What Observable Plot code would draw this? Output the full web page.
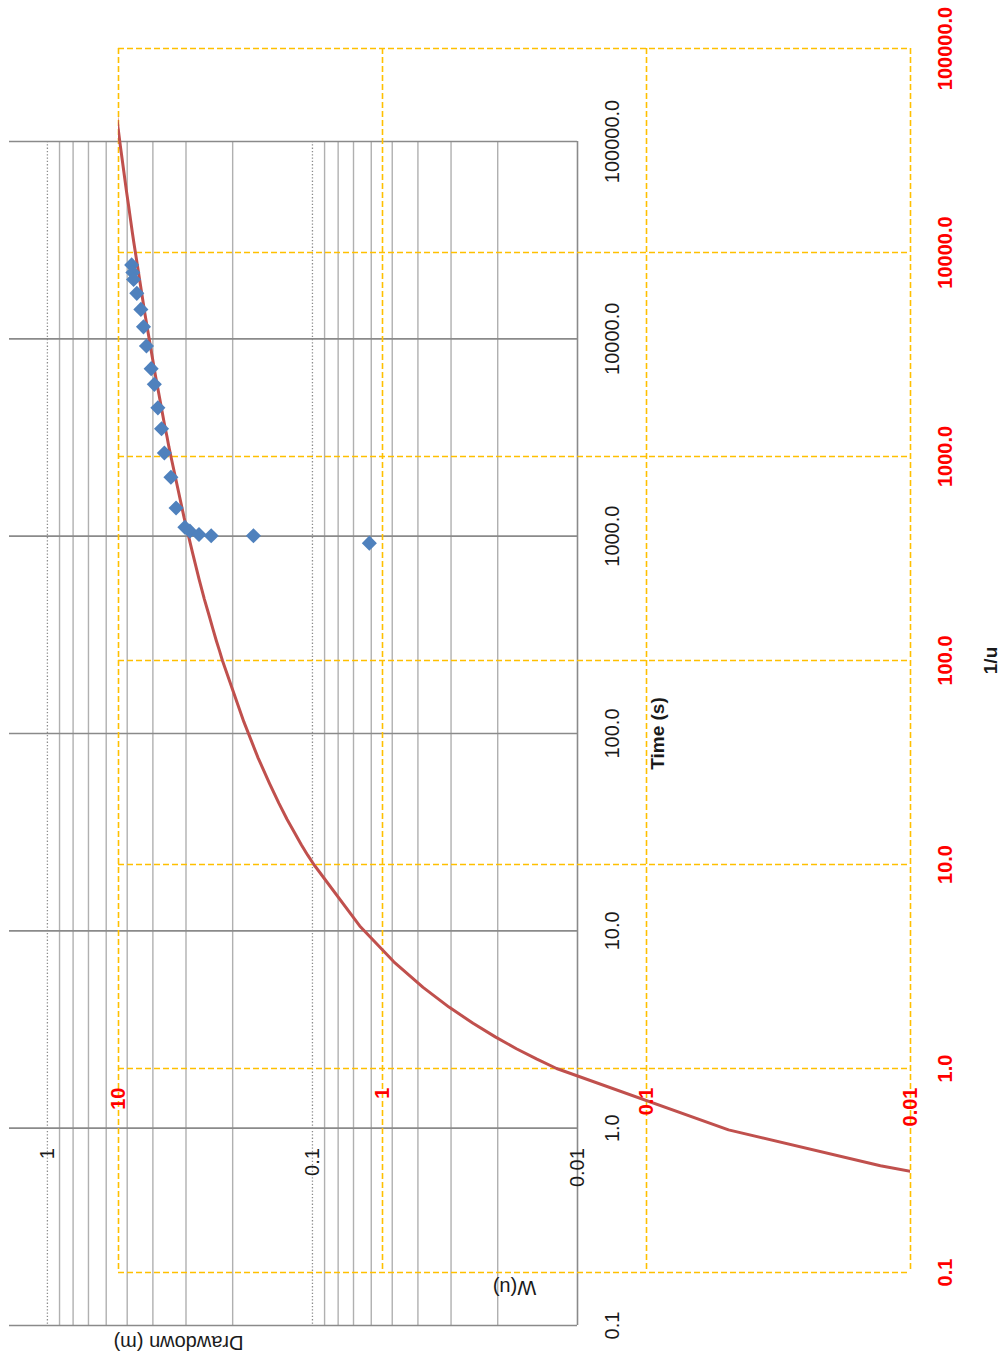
<!DOCTYPE html>
<html><head><meta charset="utf-8">
<script src="https://cdn.jsdelivr.net/npm/d3@7"></script>
<script src="https://cdn.jsdelivr.net/npm/@observablehq/plot@0.6"></script>
<style>
body{margin:0;background:#fff;}
#chart{position:relative;width:1003px;height:1359px;overflow:hidden;background:#fff;}
#chart svg{position:absolute;left:0;top:0;}
</style></head><body><div id="chart"></div>
<script>
// ---- primary (observed) axes ----
const timeTicks = [0.1, 1, 10, 100, 1000, 10000, 100000];
const timeTickLabels = ["0.1", "1.0", "10.0", "100.0", "1000.0", "10000.0", "100000.0"];
const drawdownMajor = [0.01, 0.1, 1];
const drawdownTickLabels = ["0.01", "0.1", "1"];
const drawdownMinor = [0.02, 0.03, 0.04, 0.05, 0.06, 0.07, 0.08, 0.09, 0.2, 0.3, 0.4, 0.5, 0.6, 0.7, 0.8, 0.9];
const drawdownDomain = [0.01, 1.39];
const timeDomain = [0.1, 100000];
const drawdownAxisCrossTime = 1;

// ---- secondary (type curve) axes ----
const invUTicks = [0.1, 1, 10, 100, 1000, 10000, 100000];
const invUTickLabels = ["0.1", "1.0", "10.0", "100.0", "1000.0", "10000.0", "100000.0"];
const wTicks = [0.01, 0.1, 1, 10];
const wTickLabels = ["0.01", "0.1", "1", "10"];
const wDomain = [0.01, 10];
const invUDomain = [0.1, 100000];
const wAxisCrossInvU = 1;

// ---- observed data: Time (s) and Drawdown (m) ----
const obsTime = [23700, 21700, 20000, 17000, 14100, 11500, 9200, 7060, 5880, 4470, 3500, 2640, 1990, 1390, 1110, 1060, 1020, 1005, 1005, 922];
const obsDrawdown = [0.481, 0.476, 0.473, 0.460, 0.444, 0.434, 0.423, 0.406, 0.395, 0.383, 0.371, 0.362, 0.342, 0.327, 0.303, 0.290, 0.268, 0.241, 0.167, 0.061];

// ---- Theis type curve: u and W(u) ----
const theisU = [1e-5, 2e-5, 3e-5, 4e-5, 5e-5, 6e-5, 7e-5, 8e-5, 9e-5,
  1e-4, 2e-4, 3e-4, 4e-4, 5e-4, 6e-4, 7e-4, 8e-4, 9e-4,
  1e-3, 2e-3, 3e-3, 4e-3, 5e-3, 6e-3, 7e-3, 8e-3, 9e-3,
  0.01, 0.02, 0.03, 0.04, 0.05, 0.06, 0.07, 0.08, 0.09,
  0.1, 0.2, 0.3, 0.4, 0.5, 0.6, 0.7, 0.8, 0.9,
  1, 2, 3, 4, 5];
const theisW = [10.94, 10.24, 9.84, 9.55, 9.33, 9.14, 8.99, 8.86, 8.74,
  8.63, 7.94, 7.53, 7.25, 7.02, 6.84, 6.69, 6.55, 6.44,
  6.33, 5.64, 5.23, 4.95, 4.73, 4.54, 4.39, 4.26, 4.14,
  4.04, 3.35, 2.96, 2.68, 2.47, 2.30, 2.15, 2.03, 1.92,
  1.82, 1.22, 0.906, 0.702, 0.560, 0.454, 0.374, 0.311, 0.260,
  0.219, 0.0489, 0.0130, 0.00378, 0.00115];

const FONT = "Liberation Sans, Arial, sans-serif";
const W = 1003, H = 1359;

const obs = obsTime.map((t, i) => ({t, s: obsDrawdown[i]}));
const theis = theisU.map((u, i) => ({invU: 1 / u, w: theisW[i]}));
const timeAxis = timeTicks.map((v, i) => ({v, label: timeTickLabels[i]}));
const ddAxis = drawdownMajor.map((v, i) => ({v, label: drawdownTickLabels[i]}));
const invUAxis = invUTicks.map((v, i) => ({v, label: invUTickLabels[i]}));
const wAxis = wTicks.map((v, i) => ({v, label: wTickLabels[i]}));

const grayMargins = {marginLeft: 9, marginRight: 426, marginTop: 141, marginBottom: 34};
const yellowMargins = {marginLeft: 118, marginRight: 93, marginTop: 48, marginBottom: 87};
const style = {background: "transparent", fontFamily: FONT, overflow: "visible"};

const grayScales = {
  x: {type: "log", domain: drawdownDomain, reverse: true, axis: null},
  y: {type: "log", domain: timeDomain, axis: null}
};
const yellowScales = {
  x: {type: "log", domain: wDomain, reverse: true, axis: null},
  y: {type: "log", domain: invUDomain, axis: null}
};

const mid = {textAnchor: "middle", lineAnchor: "middle"};

// Layer 1: primary grid and labels
const gray = Plot.plot({
  width: W, height: H, ...grayMargins, style, ...grayScales,
  marks: [
    Plot.ruleX(drawdownMinor, {stroke: "#b0b0b0", strokeWidth: 1.4}),
    Plot.ruleX(drawdownMajor.filter(d => d > drawdownDomain[0]), {stroke: "#8c8c8c", strokeWidth: 1.3, strokeDasharray: "1.3,2"}),
    Plot.ruleY(timeTicks, {stroke: "#8a8a8a", strokeWidth: 1.6}),
    Plot.ruleX([drawdownDomain[0]], {stroke: "#8a8a8a", strokeWidth: 1.6}),
    Plot.text(timeAxis, {y: "v", text: "label", frameAnchor: "right", dx: 35, rotate: -90, ...mid, fontSize: 20, fill: "#1a1a1a"}),
    Plot.text(ddAxis, {x: "v", y: () => drawdownAxisCrossTime, text: "label", dy: 20, rotate: -90, textAnchor: "end", lineAnchor: "middle", fontSize: 20, fill: "#1a1a1a"}),
    Plot.text(["Time (s)"], {frameAnchor: "right", dx: 80, rotate: -90, ...mid, fontSize: 19, fontWeight: "bold", fill: "#1a1a1a"}),
    Plot.text(["Drawdown (m)"], {frameAnchor: "bottom-left", dx: 169, dy: 17, rotate: 180, ...mid, fontSize: 20, fill: "#1a1a1a"})
  ]
});

// Layer 2: type curve grid, labels and curve
const yellow = Plot.plot({
  width: W, height: H, ...yellowMargins, style, ...yellowScales,
  marks: [
    Plot.ruleX(wTicks, {stroke: "#FFC000", strokeWidth: 1.6, strokeDasharray: "6,3"}),
    Plot.ruleY(invUTicks, {stroke: "#FFC000", strokeWidth: 1.6, strokeDasharray: "6,3"}),
    Plot.line(theis, {x: "w", y: "invU", stroke: "#C0504D", strokeWidth: 3, clip: true}),
    Plot.text(invUAxis, {y: "v", text: "label", frameAnchor: "right", dx: 35, rotate: -90, ...mid, fontSize: 20, fontWeight: "bold", fill: "#FF0000"}),
    Plot.text(wAxis, {x: "v", y: () => wAxisCrossInvU, text: "label", dy: 19, rotate: -90, textAnchor: "end", lineAnchor: "middle", fontSize: 20, fontWeight: "bold", fill: "#FF0000"}),
    Plot.text(["1/u"], {frameAnchor: "right", dx: 80, rotate: -90, ...mid, fontSize: 19, fontWeight: "bold", fill: "#1a1a1a"}),
    Plot.text(["W(u)"], {frameAnchor: "bottom", dy: 15, rotate: 180, ...mid, fontSize: 20, fill: "#1a1a1a"})
  ]
});

// Layer 3: observed points
const points = Plot.plot({
  width: W, height: H, ...grayMargins, style, ...grayScales,
  marks: [
    Plot.dot(obs, {x: "s", y: "t", symbol: "diamond2", r: 6.8, fill: "#4F81BD", stroke: "none"})
  ]
});

const el = document.getElementById("chart");
el.append(gray, yellow, points);
</script>
</body></html>
